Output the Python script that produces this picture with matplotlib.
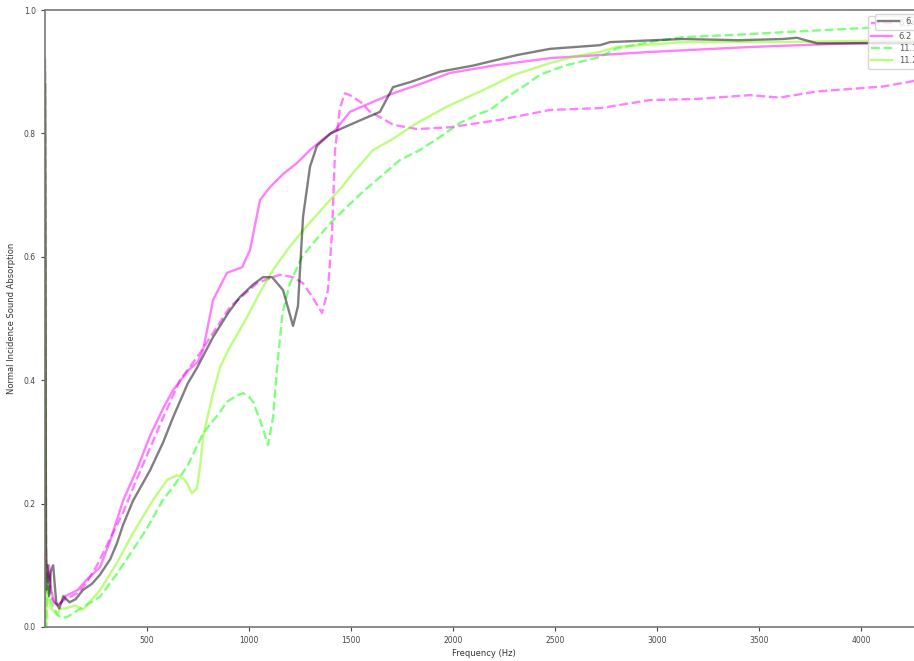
import matplotlib
matplotlib.use('Agg')
import matplotlib.pyplot as plt

# normal incidence absorption curves
f_614 = [0, 5, 12, 20, 28, 40, 55, 70, 90, 120, 150, 186, 230, 270, 320, 353, 382, 432, 515, 580, 628,
         700, 745, 824, 900, 956, 1020, 1069, 1113, 1167, 1216, 1240, 1265, 1299, 1333, 1400, 1495,
         1593, 1642, 1706, 1789, 1936, 2100, 2314, 2475, 2721, 2770, 3127, 3400, 3618, 3686, 3784,
         4108, 4400]
a_614 = [0.88, 0.06, 0.1, 0.05, 0.09, 0.1, 0.04, 0.03, 0.05, 0.04, 0.045, 0.06, 0.07, 0.085, 0.11,
         0.136, 0.165, 0.205, 0.254, 0.3, 0.34, 0.395, 0.42, 0.47, 0.51, 0.535, 0.555, 0.567, 0.567,
         0.546, 0.488, 0.52, 0.665, 0.746, 0.78, 0.8, 0.814, 0.828, 0.835, 0.875, 0.883, 0.9, 0.91,
         0.927, 0.937, 0.943, 0.948, 0.953, 0.951, 0.953, 0.955, 0.946, 0.946, 0.945]

f_614d = [0, 5, 12, 20, 30, 45, 60, 80, 100, 130, 160, 200, 255, 300, 382, 450, 515, 580, 662, 760,
          830, 907, 980, 1039, 1100, 1152, 1216, 1265, 1310, 1358, 1387, 1407, 1422, 1445, 1470, 1495,
          1550, 1593, 1650, 1706, 1824, 1985, 2230, 2475, 2721, 2966, 3200, 3456, 3600, 3784, 4108,
          4260, 4400]
a_614d = [0.9, 0.1, 0.07, 0.09, 0.05, 0.04, 0.035, 0.04, 0.045, 0.05, 0.055, 0.07, 0.1, 0.13, 0.185,
          0.24, 0.29, 0.34, 0.4, 0.444, 0.48, 0.519, 0.54, 0.557, 0.565, 0.571, 0.567, 0.557, 0.535,
          0.509, 0.546, 0.639, 0.773, 0.84, 0.865, 0.862, 0.85, 0.835, 0.825, 0.814, 0.807, 0.81,
          0.822, 0.838, 0.841, 0.854, 0.856, 0.862, 0.858, 0.868, 0.876, 0.885, 0.892]

f_62 = [0, 5, 12, 20, 30, 45, 60, 80, 100, 130, 160, 200, 270, 320, 384, 450, 515, 580, 628, 700, 750,
        775, 824, 892, 966, 1005, 1054, 1103, 1170, 1235, 1299, 1360, 1422, 1495, 1600, 1706, 1840,
        1985, 2200, 2475, 2721, 2966, 3456, 3946, 4400]
a_62 = [0.92, 0.13, 0.08, 0.1, 0.06, 0.04, 0.035, 0.04, 0.05, 0.055, 0.06, 0.075, 0.097, 0.14, 0.206,
        0.255, 0.31, 0.355, 0.384, 0.415, 0.43, 0.449, 0.53, 0.574, 0.583, 0.611, 0.692, 0.713, 0.735,
        0.752, 0.773, 0.79, 0.805, 0.835, 0.85, 0.865, 0.88, 0.898, 0.91, 0.922, 0.927, 0.932, 0.94,
        0.946, 0.95]

f_111 = [0, 5, 10, 20, 30, 45, 60, 80, 108, 150, 200, 270, 350, 431, 500, 578, 628, 700, 775, 850,
         892, 940, 971, 1000, 1020, 1060, 1093, 1118, 1140, 1165, 1201, 1260, 1314, 1400, 1480, 1560,
         1642, 1740, 1838, 1940, 2034, 2130, 2181, 2230, 2265, 2350, 2426, 2550, 2721, 2804, 3000,
         3127, 3400, 3618, 4029, 4400]
a_111 = [0.92, 0.0, 0.08, 0.06, 0.04, 0.03, 0.02, 0.015, 0.016, 0.025, 0.035, 0.049, 0.085, 0.125,
         0.16, 0.206, 0.227, 0.262, 0.314, 0.345, 0.365, 0.375, 0.379, 0.373, 0.365, 0.33, 0.295,
         0.34, 0.43, 0.51, 0.557, 0.6, 0.622, 0.655, 0.681, 0.706, 0.729, 0.757, 0.773, 0.795, 0.817,
         0.832, 0.838, 0.85, 0.859, 0.877, 0.895, 0.91, 0.924, 0.938, 0.95, 0.956, 0.96, 0.964, 0.971,
         0.972]

f_112 = [0, 5, 10, 20, 30, 45, 60, 74, 100, 150, 186, 230, 270, 353, 431, 530, 598, 647, 680, 696, 720,
         745, 760, 775, 800, 824, 858, 900, 990, 1050, 1118, 1190, 1265, 1330, 1397, 1455, 1510, 1608,
         1700, 1824, 1980, 2147, 2300, 2475, 2600, 2721, 2804, 3127, 3618, 4000, 4400]
a_112 = [0.9, 0.0, 0.06, 0.04, 0.03, 0.025, 0.02, 0.03, 0.03, 0.035, 0.028, 0.045, 0.06, 0.104, 0.152,
         0.206, 0.238, 0.246, 0.24, 0.233, 0.217, 0.225, 0.26, 0.308, 0.345, 0.379, 0.421, 0.45, 0.502,
         0.54, 0.579, 0.612, 0.643, 0.667, 0.692, 0.713, 0.736, 0.773, 0.79, 0.817, 0.845, 0.87, 0.895,
         0.914, 0.925, 0.932, 0.94, 0.948, 0.948, 0.95, 0.95]

W, H = 914, 661
fig = plt.figure(figsize=(W / 100, H / 100), dpi=100)
ax = fig.add_axes([45 / W, 34 / H, 878 / W, 617 / H])

lw = 1.7
l_dash, = ax.plot(f_614d, a_614d, '--', color='magenta', alpha=0.5, lw=lw, label='6.14')
l_62, = ax.plot(f_62, a_62, '-', color='magenta', alpha=0.5, lw=lw, label='6.2')
l_111, = ax.plot(f_111, a_111, '--', color='lime', alpha=0.5, lw=lw, label='11.1')
l_112, = ax.plot(f_112, a_112, '-', color='lawngreen', alpha=0.5, lw=lw, label='11.2')
l_614, = ax.plot(f_614, a_614, '-', color='black', alpha=0.5, lw=lw, label='6.14')

ax.set_xlim(0, 4304)
ax.set_ylim(0, 1)
ax.set_xticks([500, 1000, 1500, 2000, 2500, 3000, 3500, 4000])
ax.set_yticks([0, 0.2, 0.4, 0.6, 0.8, 1.0])
ax.tick_params(labelsize=5.5, colors='#444444', length=3, width=0.8)
for s in ax.spines.values():
    s.set_color('#777777')
    s.set_linewidth(1.2)
ax.set_xlabel('Frequency (Hz)', fontsize=6, color='#333333', labelpad=3)
ax.set_ylabel('Normal Incidence Sound Absorption', fontsize=6, color='#333333', labelpad=6)

# two overlapping legends, the second one hides the first row of the first
leg1 = fig.legend(handles=[l_dash, l_62, l_111, l_112], loc='upper left',
                  bbox_to_anchor=(868 / W, 1 - 16 / H), borderaxespad=0, fontsize=6,
                  handlelength=2.5, labelspacing=0.4, labelcolor='#555555')
leg2 = fig.legend(handles=[l_614], loc='upper left',
                  bbox_to_anchor=(875 / W, 1 - 14 / H), borderaxespad=0, fontsize=6,
                  handlelength=2.5, labelcolor='#555555')

fig.savefig('out.png', dpi=100)
